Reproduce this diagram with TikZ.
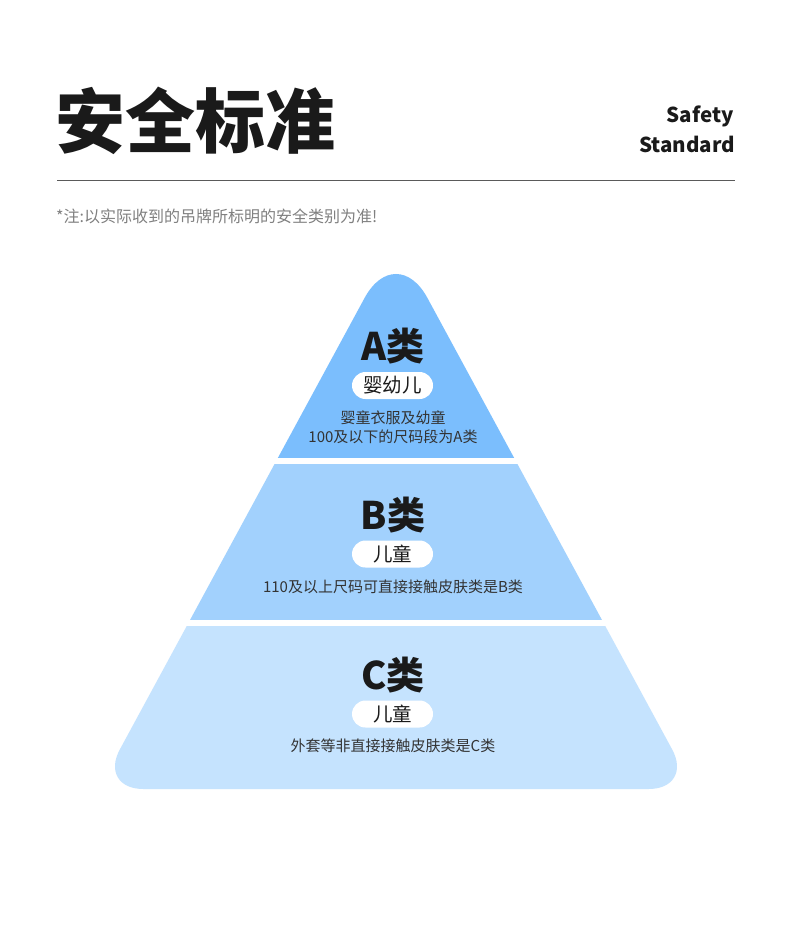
\documentclass[tikz,border=0pt]{standalone}
\usepackage{fontspec}
\setmainfont{Noto Sans CJK SC}
\usetikzlibrary{positioning}
\definecolor{LayerA}{HTML}{7BBEFD}
\definecolor{LayerB}{HTML}{A2D1FD}
\definecolor{LayerC}{HTML}{C5E3FE}
\definecolor{Ink}{HTML}{1A1A1A}
\definecolor{RuleGray}{HTML}{5A5A5A}
\definecolor{NoteGray}{HTML}{808080}
\definecolor{DescGray}{HTML}{333333}
\newcommand{\setfs}[2]{\fontsize{#1}{#2}\selectfont}

\begin{document}
\begin{tikzpicture}[
    x=1pt, y=-1pt,
    classname/.style={font=\bfseries\setfs{38}{38}, text=Ink, inner sep=0pt},
    pill/.style={fill=white, rounded corners=13.5pt, minimum width=81pt, minimum height=27pt, inner sep=0pt, font=\setfs{19.5}{19.5}, text=Ink},
    desc/.style={font=\setfs{15}{19}, text=DescGray, inner sep=0pt, align=center},
    every node/.style={inner sep=0pt}
]
\useasboundingbox[fill=white] (0,0) rectangle (790,947);

% Header
\node[anchor=west, font=\bfseries\setfs{70}{70}, text=Ink] (title) at (55,121) {安全标准};
\node[anchor=base east, font=\bfseries\setfs{20.5}{20.5}, text=Ink] (safety) at (734,123) {Safety};
\node[anchor=base east, font=\bfseries\setfs{20.5}{20.5}, text=Ink] (standard) at (735,152) {Standard};
\coordinate (ruleL) at (57,180);
\coordinate (ruleR) at (735,180);
\draw[RuleGray, line width=1pt] (ruleL) -- (ruleR);
\node[anchor=west, font=\setfs{16}{16}, text=NoteGray] (note) at (56,216) {*注:以实际收到的吊牌所标明的安全类别为准!};

% Pyramid layers
\begin{scope}
\clip (396,789) [rounded corners=45pt] -- (98.4,789) [rounded corners=66pt] -- (396,240) [rounded corners=45pt] -- (693.6,789) -- cycle;
\fill[LayerA] (0,0) rectangle (790,458);
\fill[LayerB] (0,464) rectangle (790,619.5);
\fill[LayerC] (0,626) rectangle (790,800);
\end{scope}

% Layer A
\node[classname] (nameA) at (393,346) {A类};
\node[pill] (pillA) at (392.5,385.5) {婴幼儿};
\node[desc] (descA) at (393,427.5) {婴童衣服及幼童\\100及以下的尺码段为A类};

% Layer B
\node[classname] (nameB) at (393,515) {B类};
\node[pill] (pillB) at (392.5,554) {儿童};
\node[desc] (descB) at (393,587) {110及以上尺码可直接接触皮肤类是B类};

% Layer C
\node[classname] (nameC) at (393,675) {C类};
\node[pill] (pillC) at (392.5,714) {儿童};
\node[desc] (descC) at (393,746) {外套等非直接接触皮肤类是C类};

\end{tikzpicture}
\end{document}
